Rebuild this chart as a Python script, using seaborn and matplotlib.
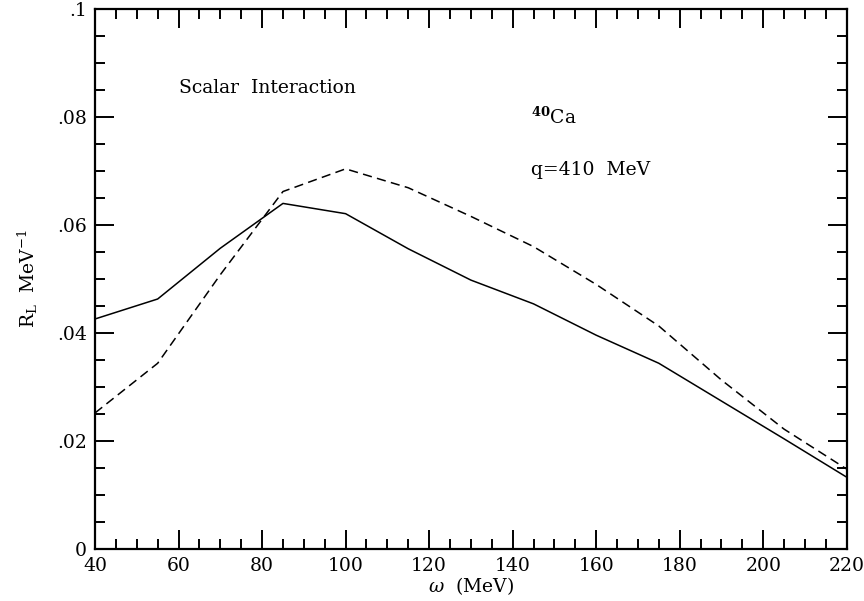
import numpy as np
import pandas as pd
import matplotlib
matplotlib.use("Agg")
import matplotlib.pyplot as plt
from matplotlib.ticker import MultipleLocator, FixedLocator
import seaborn as sns

# Energy transfer (MeV)
omega = [40, 55, 70, 85, 100, 115, 130, 145, 160, 175, 190, 205, 220]
# Longitudinal response, solid curve (MeV^-1)
r_solid = [0.0426, 0.0463, 0.0557, 0.0640, 0.0621, 0.0556, 0.0498, 0.0454,
           0.0396, 0.0344, 0.0274, 0.0204, 0.0133]
# Longitudinal response, dashed curve (MeV^-1)
r_dashed = [0.0252, 0.0344, 0.0508, 0.0662, 0.0704, 0.0669, 0.0616, 0.0560,
            0.0490, 0.0413, 0.0313, 0.0222, 0.0148]

y_ticks = [0, 0.02, 0.04, 0.06, 0.08, 0.1]
y_tick_labels = ["0", ".02", ".04", ".06", ".08", ".1"]
x_ticks = [40, 60, 80, 100, 120, 140, 160, 180, 200, 220]

df = pd.DataFrame({
    "omega": omega * 2,
    "R": r_solid + r_dashed,
    "curve": ["solid"] * len(omega) + ["dashed"] * len(omega),
})

sns.set_style("ticks")
plt.rcParams["font.family"] = ["DejaVu Serif"]
plt.rcParams["mathtext.fontset"] = "dejavuserif"
plt.rcParams["text.color"] = "black"
plt.rcParams["axes.labelcolor"] = "black"
plt.rcParams["xtick.color"] = "black"
plt.rcParams["ytick.color"] = "black"

fig = plt.figure(figsize=(8.64, 6.01), dpi=100)
ax = fig.add_axes([0.110, 0.0865, 0.870, 0.8985])

sns.lineplot(data=df, x="omega", y="R", style="curve",
             dashes={"solid": "", "dashed": (6, 3.5)},
             color="black", linewidth=1.1, legend=False, ax=ax)

ax.set_xlim(40, 220)
ax.set_ylim(0, 0.1)
ax.xaxis.set_major_locator(FixedLocator(x_ticks))
ax.xaxis.set_minor_locator(MultipleLocator(5))
ax.yaxis.set_major_locator(FixedLocator(y_ticks))
ax.yaxis.set_minor_locator(MultipleLocator(0.005))
ax.set_yticklabels(y_tick_labels)

ax.tick_params(which="both", direction="in", top=True, right=True,
               width=1.4, color="black", labelcolor="black",
               labelsize=13.5, pad=6)
ax.tick_params(which="major", length=14)
ax.tick_params(which="minor", length=7)
for sp in ax.spines.values():
    sp.set_linewidth(1.6)
    sp.set_color("black")

ax.set_xlabel(r"$\omega$  (MeV)", fontsize=13.5, labelpad=0, color="black")
ax.set_ylabel(r"R$_{\rm L}$  MeV$^{-1}$", fontsize=13.5, labelpad=12, color="black")

ax.text(60, 0.0854, "Scalar  Interaction", fontsize=13.5, va="center", ha="left")
ax.text(144.5, 0.0800, r"$^{\mathbf{40}}$Ca", fontsize=13.5, va="center", ha="left")
ax.text(144.5, 0.0701, "q=410  MeV", fontsize=13.5, va="center", ha="left")

fig.savefig("out.png", dpi=100)
